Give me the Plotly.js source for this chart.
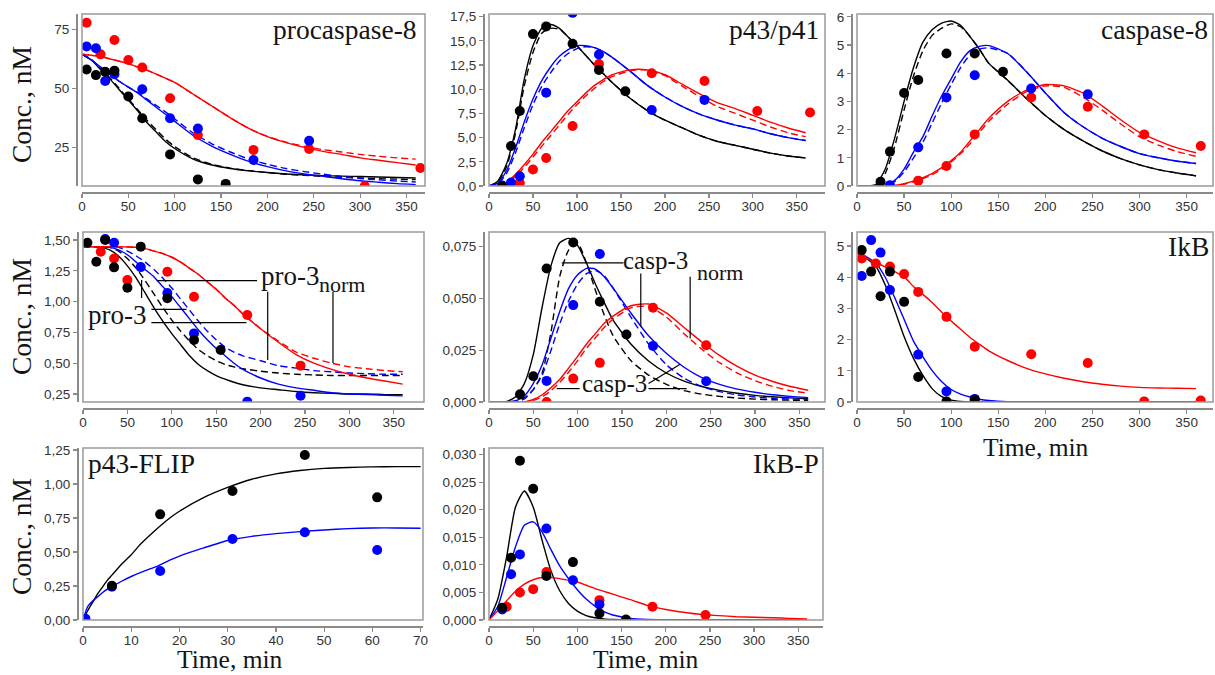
<!DOCTYPE html>
<html><head><meta charset="utf-8">
<script src="https://cdn.plot.ly/plotly-3.0.1.min.js"></script>
<style>html,body{margin:0;padding:0;background:#fff;}#chart{width:1215px;height:675px;}</style>
</head><body><div id="chart"></div>
<script>
// ---------- DATA ----------
// common model time grid (min)
const T26 = [0,10,20,30,40,50,60,70,80,90,100,110,120,130,140,160,180,200,220,240,260,280,300,320,340,360];
// Panel 1: procaspase-8
const p1_t = [0,10,20,30,40,50,60,70,80,90,100,120,140,160,180,200,220,240,260,280,300,320,340,360];
const p1_blackSolid = [64.5,62,58,54,49.5,45,40.5,35.5,31.5,27.5,24.5,20,17.5,16,15,14.3,13.7,13.3,13,12.8,12.6,12.4,12.2,12];
const p1_blackDash  = [64.5,62.3,58.5,54.5,50,45.5,41,36.5,32.5,28.5,25.3,20.5,17.8,16.2,15.1,14.3,13.6,13.1,12.7,12.3,12,11.7,11.5,11.3];
const p1_blueSolid  = [64.5,62,59,56,53,50.5,48,45,42,39,36,30,25.5,22,19,16.8,15,13.7,12.7,11.7,10.8,10.2,9.6,9.2];
const p1_blueDash   = [64.5,62,59,56,53,50.5,48.3,45.5,42.8,40,37,31,26.5,23,20,17.8,16,14.7,13.6,12.6,11.8,11.2,10.7,10.3];
const p1_redSolid   = [64.5,64,63.5,62.5,61.5,60.5,59,57.7,56,54.3,52.5,47.5,42.5,37.5,33,29.5,27,25,23.3,22,20.5,19.5,18.5,17.5];
const p1_redDash    = [64.5,64,63.5,62.5,61.5,60.5,59,57.7,56,54.3,52.5,47.5,42.5,37.5,33,29.6,27.2,25.4,24,23,22,21.2,20.5,20];
const p1_ptRed_t = [5,20,35,50,65,95,125,185,245,305,365];
const p1_ptRed   = [77.8,64.4,70.5,62,58.8,45.8,30.2,23.9,24.3,8.6,16.2];
const p1_ptBlue_t = [5,15,25,35,65,95,125,185,245];
const p1_ptBlue   = [67.7,67,53.1,56,49.6,37.3,33,19.6,27.8];
const p1_ptBlack_t = [5,15,25,35,50,65,95,125,155];
const p1_ptBlack   = [58,55.6,57,57.5,46.5,37.3,22,11.4,9.5];
// Panel 2: p43/p41
const p2_blackSolid = [0,0.5,2.3,5.8,11.0,14.5,16.3,16.7,16.3,15.4,14.5,13.5,12.5,11.6,10.7,9.1,7.8,6.8,6.0,5.2,4.6,4.2,3.8,3.4,3.1,2.9];
const p2_blackDash  = [0,0.4,2.0,5.4,10.3,13.8,15.8,16.3,16.2,15.4,14.5,13.5,12.5,11.6,10.7,9.1,7.8,6.8,6.0,5.2,4.6,4.2,3.8,3.4,3.1,2.9];
const p2_blueSolid  = [0,0.3,1.6,3.9,6.6,9.0,10.9,12.3,13.4,14.1,14.5,14.5,14.3,13.9,13.3,11.9,10.4,9.2,8.2,7.4,6.8,6.3,5.9,5.4,5.0,4.7];
const p2_blueDash   = [0,0.2,1.3,3.4,6.0,8.4,10.3,11.7,12.9,13.7,14.2,14.4,14.3,13.9,13.3,11.9,10.4,9.2,8.2,7.4,6.8,6.3,5.9,5.4,5.0,4.7];
const p2_redSolid   = [0,0.05,0.4,1.2,2.2,3.3,4.5,5.6,6.7,7.8,8.7,9.6,10.4,11.0,11.5,12.0,12.0,11.5,10.5,9.5,8.6,8.0,7.3,6.6,6.0,5.5];
const p2_redDash    = [0,0.03,0.3,1.0,1.9,3.0,4.1,5.2,6.3,7.4,8.4,9.3,10.1,10.8,11.3,11.9,12.0,11.4,10.3,9.2,8.2,7.5,6.8,6.1,5.5,5.1];
const p2_ptBlack_t = [15,25,35,50,65,95,125,155];
const p2_ptBlack   = [0.0,4.13,7.75,15.7,16.5,14.7,12.0,9.8];
const p2_ptBlue_t = [15,25,35,65,95,125,185,245];
const p2_ptBlue   = [0.05,0.35,1.0,9.65,17.9,13.6,7.85,8.9];
const p2_ptRed_t = [35,50,65,95,125,185,245,305,365];
const p2_ptRed   = [0.3,1.7,2.9,6.2,12.6,11.65,10.85,7.75,7.6];
// Panel 3: caspase-8
const p3_blackSolid = [0,0,0.05,0.6,1.7,3.0,4.2,5.1,5.55,5.78,5.85,5.7,5.3,4.85,4.35,3.75,3.1,2.5,2.0,1.6,1.25,0.97,0.75,0.58,0.46,0.36];
const p3_blackDash  = [0,0,0.04,0.45,1.4,2.7,3.9,4.8,5.35,5.6,5.75,5.65,5.3,4.85,4.35,3.75,3.1,2.5,2.0,1.6,1.25,0.97,0.75,0.58,0.46,0.36];
const p3_blueSolid  = [0,0,0,0.02,0.2,0.6,1.2,1.75,2.5,3.2,3.8,4.4,4.8,4.95,4.98,4.7,4.05,3.3,2.6,2.1,1.7,1.4,1.15,1.0,0.88,0.8];
const p3_blueDash   = [0,0,0,0.01,0.15,0.5,1.0,1.55,2.25,2.95,3.6,4.2,4.65,4.85,4.9,4.7,4.05,3.3,2.6,2.1,1.7,1.4,1.15,1.0,0.88,0.8];
const p3_redSolid   = [0,0,0,0,0.02,0.08,0.18,0.3,0.45,0.65,0.9,1.2,1.6,2.0,2.4,3.0,3.4,3.6,3.55,3.3,2.85,2.35,1.9,1.6,1.35,1.18];
const p3_redDash    = [0,0,0,0,0.01,0.06,0.15,0.26,0.4,0.6,0.85,1.15,1.5,1.9,2.3,2.9,3.35,3.55,3.5,3.15,2.7,2.2,1.75,1.45,1.22,1.05];
const p3_ptBlack_t = [25,35,50,65,95,125,155];
const p3_ptBlack   = [0.15,1.22,3.3,3.76,4.7,4.7,4.05];
const p3_ptBlue_t = [35,65,95,125,185,245];
const p3_ptBlue   = [0.03,1.37,3.14,3.93,3.46,3.25];
const p3_ptRed_t = [65,95,125,185,245,305,365];
const p3_ptRed   = [0.19,0.71,1.83,3.14,2.81,1.83,1.42];
// Panel 4: procaspase-3
const p4_t = [0,10,20,30,40,50,60,70,80,90,100,110,120,130,140,150,160,170,180,200,220,240,260,280,300,320,340,360];
const p4_redSolid   = [1.446,1.446,1.446,1.446,1.445,1.443,1.44,1.43,1.41,1.39,1.36,1.32,1.27,1.22,1.16,1.10,1.03,0.97,0.9,0.78,0.67,0.57,0.5,0.45,0.41,0.38,0.355,0.33];
const p4_redDash    = [1.446,1.446,1.446,1.446,1.445,1.443,1.44,1.43,1.41,1.39,1.36,1.32,1.27,1.22,1.16,1.10,1.03,0.97,0.9,0.78,0.68,0.59,0.54,0.5,0.47,0.455,0.44,0.43];
const p4_blackSolid = [1.446,1.446,1.44,1.42,1.37,1.29,1.19,1.07,0.95,0.84,0.74,0.65,0.56,0.49,0.44,0.40,0.37,0.345,0.325,0.30,0.285,0.27,0.26,0.255,0.25,0.25,0.245,0.245];
const p4_blackDash  = [1.446,1.446,1.445,1.44,1.41,1.35,1.27,1.17,1.06,0.95,0.85,0.76,0.68,0.61,0.56,0.52,0.49,0.47,0.455,0.435,0.42,0.41,0.405,0.40,0.40,0.40,0.40,0.40];
const p4_blueSolid  = [1.446,1.446,1.445,1.44,1.42,1.38,1.32,1.26,1.2,1.12,1.04,0.95,0.86,0.77,0.69,0.62,0.56,0.5,0.45,0.38,0.33,0.30,0.28,0.26,0.25,0.245,0.24,0.235];
const p4_blueDash   = [1.446,1.446,1.446,1.445,1.44,1.41,1.37,1.32,1.26,1.19,1.11,1.02,0.93,0.84,0.76,0.69,0.63,0.59,0.56,0.52,0.48,0.46,0.44,0.43,0.42,0.415,0.41,0.41];
const p4_ptBlack_t = [5,15,25,35,50,65,95,125,155];
const p4_ptBlack   = [1.478,1.324,1.5,1.278,1.113,1.446,1.027,0.688,0.607];
const p4_ptRed_t = [20,35,50,95,125,185,245];
const p4_ptRed   = [1.405,1.35,1.175,1.243,1.04,0.891,0.48];
const p4_ptBlue_t = [25,35,65,95,125,185,245];
const p4_ptBlue   = [1.508,1.478,1.28,1.07,0.742,0.188,0.236];
// Panel 5: caspase-3
const p5_blackSolid = [0,0,0.0003,0.0025,0.009,0.023,0.046,0.066,0.077,0.079,0.0755,0.067,0.057,0.048,0.0395,0.028,0.0198,0.014,0.0101,0.0075,0.0056,0.0042,0.0032,0.0025,0.002,0.0016];
const p5_blackDash  = [0,0,0,0.0005,0.002,0.006,0.014,0.034,0.061,0.0735,0.0767,0.067,0.054,0.042,0.032,0.02,0.013,0.0085,0.0055,0.0038,0.0027,0.0019,0.0014,0.0011,0.0009,0.0008];
const p5_blueSolid  = [0,0,0,0.0005,0.003,0.009,0.018,0.031,0.044,0.055,0.0615,0.0645,0.0642,0.0605,0.055,0.043,0.032,0.0235,0.0168,0.0118,0.0085,0.0062,0.0047,0.0035,0.0027,0.0021];
const p5_blueDash   = [0,0,0,0.0002,0.0015,0.006,0.013,0.025,0.038,0.049,0.057,0.062,0.0635,0.061,0.055,0.041,0.028,0.018,0.0115,0.0075,0.005,0.0034,0.0024,0.0018,0.0014,0.0012];
const p5_redSolid   = [0,0,0,0,0,0.0012,0.0035,0.007,0.011,0.0165,0.022,0.028,0.033,0.038,0.0415,0.0465,0.0473,0.043,0.036,0.029,0.0225,0.0172,0.013,0.0099,0.0075,0.0057];
const p5_redDash    = [0,0,0,0,0,0.0008,0.0025,0.0055,0.0095,0.0145,0.02,0.026,0.031,0.036,0.04,0.0455,0.0462,0.041,0.033,0.0255,0.019,0.014,0.0103,0.0075,0.0055,0.0042];
const p5_ptBlack_t = [35,50,65,95,125,155];
const p5_ptBlack   = [0.0037,0.0124,0.0645,0.077,0.0484,0.0326];
const p5_ptBlue_t = [65,95,125,185,245];
const p5_ptBlue   = [0.0102,0.0468,0.0715,0.0271,0.01];
const p5_ptRed_t = [65,95,125,185,245];
const p5_ptRed   = [0.0,0.0113,0.0189,0.0455,0.0274];
// Panel 6: IkB
const p6_black = [4.82,4.6,4.35,3.75,2.95,2.1,1.4,0.85,0.42,0.17,0.06,0.02,0.005,0,0,0,0,0,0,0,0,0,0,0,0,0];
const p6_blue  = [4.8,4.65,4.45,4.0,3.35,2.65,1.95,1.45,1.0,0.65,0.4,0.25,0.16,0.09,0.05,0.01,0,0,0,0,0,0,0,0,0,0];
const p6_red   = [4.75,4.6,4.47,4.33,4.18,4.02,3.7,3.45,3.18,2.88,2.6,2.33,2.07,1.85,1.64,1.33,1.08,0.9,0.76,0.65,0.57,0.51,0.47,0.45,0.44,0.43];
const p6_ptBlack_t = [5,15,25,35,50,65,95,125];
const p6_ptBlack   = [4.87,4.18,3.39,4.18,3.21,0.8,0.02,0.07];
const p6_ptBlue_t = [5,15,25,35,65,95,125];
const p6_ptBlue   = [4.04,5.19,4.79,3.59,1.52,0.34,0.1];
const p6_ptRed_t = [5,20,35,50,65,95,125,185,245,305,365];
const p6_ptRed   = [4.6,4.44,4.34,4.1,3.53,2.73,1.77,1.53,1.25,0.02,0.05];
// Panel 7: p43-FLIP
const p7_t = [0,1,2,3,4,5,6,8,10,12,15,18,20,25,30,35,40,45,50,55,60,65,70];
const p7_black = [0,0.07,0.13,0.19,0.24,0.29,0.33,0.41,0.48,0.56,0.66,0.75,0.8,0.9,0.975,1.035,1.075,1.1,1.115,1.122,1.126,1.128,1.128];
const p7_blue  = [0,0.1,0.14,0.17,0.2,0.225,0.245,0.285,0.32,0.35,0.39,0.44,0.47,0.53,0.585,0.615,0.635,0.65,0.662,0.672,0.677,0.677,0.675];
const p7_ptBlack_t = [6,16,31,46,61];
const p7_ptBlack   = [0.252,0.777,0.949,1.213,0.902];
const p7_ptBlue_t = [0.5,6,16,31,46,61];
const p7_ptBlue   = [0.01,0.245,0.36,0.596,0.645,0.515];
// Panel 8: IkB-P
const p8_black = [0,0.0038,0.0115,0.0205,0.0234,0.0205,0.0145,0.009,0.0053,0.003,0.0016,0.0008,0.0004,0.0002,0.0001,0,0,0,0,0,0,0,0,0,0,0];
const p8_blue  = [0,0.0025,0.0078,0.0133,0.0172,0.0178,0.016,0.0128,0.0098,0.0075,0.0055,0.0038,0.0025,0.0015,0.0009,0.0003,0.0001,0,0,0,0,0,0,0,0,0];
const p8_red   = [0,0.0017,0.0035,0.0052,0.0065,0.0073,0.0077,0.0077,0.0075,0.0072,0.0069,0.0063,0.0057,0.0052,0.0047,0.0037,0.0026,0.0019,0.0014,0.001,0.0008,0.0006,0.0005,0.0004,0.0003,0.0002];
const p8_ptBlack_t = [15,25,35,50,65,95,125,155];
const p8_ptBlack   = [0.0022,0.0113,0.0289,0.0238,0.008,0.0105,0.0012,0.0001];
const p8_ptBlue_t = [15,25,35,65,95,125];
const p8_ptBlue   = [0.0019,0.0083,0.0119,0.0166,0.0072,0.0028];
const p8_ptRed_t = [20,35,50,65,125,185,245];
const p8_ptRed   = [0.0024,0.005,0.0056,0.0087,0.0036,0.0024,0.0009];

// ---------- STYLE / LAYOUT ----------
const W = 1215, H = 675;
const fx = p => p / W, fy = p => 1 - p / H;
const BLACK = '#000000', BLUE = '#0000ff', RED = '#ff0000';
const AX = '#8a8a8a';
const SERIF = 'Liberation Serif, Times New Roman, serif';
const TFS = 27.5;
const TICKFONT = {family: 'Liberation Sans, Arial, sans-serif', size: 13.5, color: '#333333'};
const TXT = '#141414';
const xs50 = [0,50,100,150,200,250,300,350];

const panels = [
  {n:1, box:[82,425,14,186],   xr:[0,370],  yr:[8.6,81.5],   xt:xs50, yt:[25,50,75], yf:''},
  {n:2, box:[489,825,14,186],  xr:[0,382],  yr:[0,17.78],    xt:xs50, yt:[0,2.5,5,7.5,10,12.5,15,17.5], yf:'.1f'},
  {n:3, box:[857,1213,14,186], xr:[0,378],  yr:[0,6.1],      xt:xs50, yt:[0,1,2,3,4,5,6], yf:''},
  {n:4, box:[83,424,232,402],  xr:[0,384],  yr:[0.185,1.565],xt:xs50, yt:[0.25,0.5,0.75,1,1.25,1.5], yf:'.2f'},
  {n:5, box:[489,825,232,402], xr:[0,379],  yr:[0,0.0821],   xt:xs50, yt:[0,0.025,0.05,0.075], yf:'.3f'},
  {n:6, box:[857,1213,232,402],xr:[0,378],  yr:[0,5.45],     xt:xs50, yt:[0,1,2,3,4,5], yf:''},
  {n:7, box:[83,423,448,620],  xr:[0,70.5], yr:[0,1.265],    xt:[0,10,20,30,40,50,60,70], yt:[0,0.25,0.5,0.75,1,1.25], yf:'.2f'},
  {n:8, box:[489,823,448,620], xr:[0,378],  yr:[0,0.0312],   xt:xs50, yt:[0,0.005,0.01,0.015,0.02,0.025,0.03], yf:'.3f'}
];
const ax = n => (n === 1 ? '' : String(n));

function L(n, t, y, c, dashed) {
  return {type:'scatter', mode:'lines', x:t, y:y, xaxis:'x'+ax(n), yaxis:'y'+ax(n),
    line:{color:c, width:1.4, dash: dashed ? '7px,4px' : 'solid', shape:'spline', smoothing:0.6},
    hoverinfo:'skip', showlegend:false};
}
function P(n, t, y, c) {
  return {type:'scatter', mode:'markers', x:t, y:y, xaxis:'x'+ax(n), yaxis:'y'+ax(n),
    marker:{color:c, size:10}, hoverinfo:'skip', showlegend:false};
}

const traces = [
  L(1,p1_t,p1_blackSolid,BLACK,false), L(1,p1_t,p1_blackDash,BLACK,true),
  L(1,p1_t,p1_blueSolid,BLUE,false),   L(1,p1_t,p1_blueDash,BLUE,true),
  L(1,p1_t,p1_redSolid,RED,false),     L(1,p1_t,p1_redDash,RED,true),
  L(2,T26,p2_blackSolid,BLACK,false),  L(2,T26,p2_blackDash,BLACK,true),
  L(2,T26,p2_blueSolid,BLUE,false),    L(2,T26,p2_blueDash,BLUE,true),
  L(2,T26,p2_redSolid,RED,false),      L(2,T26,p2_redDash,RED,true),
  L(3,T26,p3_blackSolid,BLACK,false),  L(3,T26,p3_blackDash,BLACK,true),
  L(3,T26,p3_blueSolid,BLUE,false),    L(3,T26,p3_blueDash,BLUE,true),
  L(3,T26,p3_redSolid,RED,false),      L(3,T26,p3_redDash,RED,true),
  L(4,p4_t,p4_blackSolid,BLACK,false), L(4,p4_t,p4_blackDash,BLACK,true),
  L(4,p4_t,p4_blueSolid,BLUE,false),   L(4,p4_t,p4_blueDash,BLUE,true),
  L(4,p4_t,p4_redSolid,RED,false),     L(4,p4_t,p4_redDash,RED,true),
  L(5,T26,p5_blackSolid,BLACK,false),  L(5,T26,p5_blackDash,BLACK,true),
  L(5,T26,p5_blueSolid,BLUE,false),    L(5,T26,p5_blueDash,BLUE,true),
  L(5,T26,p5_redSolid,RED,false),      L(5,T26,p5_redDash,RED,true),
  L(6,T26,p6_black,BLACK,false), L(6,T26,p6_blue,BLUE,false), L(6,T26,p6_red,RED,false),
  L(7,p7_t,p7_black,BLACK,false), L(7,p7_t,p7_blue,BLUE,false),
  L(8,T26,p8_black,BLACK,false), L(8,T26,p8_blue,BLUE,false), L(8,T26,p8_red,RED,false),
  P(1,p1_ptRed_t,p1_ptRed,RED), P(1,p1_ptBlue_t,p1_ptBlue,BLUE), P(1,p1_ptBlack_t,p1_ptBlack,BLACK),
  P(2,p2_ptRed_t,p2_ptRed,RED), P(2,p2_ptBlue_t,p2_ptBlue,BLUE), P(2,p2_ptBlack_t,p2_ptBlack,BLACK),
  P(3,p3_ptRed_t,p3_ptRed,RED), P(3,p3_ptBlue_t,p3_ptBlue,BLUE), P(3,p3_ptBlack_t,p3_ptBlack,BLACK),
  P(4,p4_ptRed_t,p4_ptRed,RED), P(4,p4_ptBlue_t,p4_ptBlue,BLUE), P(4,p4_ptBlack_t,p4_ptBlack,BLACK),
  P(5,p5_ptRed_t,p5_ptRed,RED), P(5,p5_ptBlue_t,p5_ptBlue,BLUE), P(5,p5_ptBlack_t,p5_ptBlack,BLACK),
  P(6,p6_ptRed_t,p6_ptRed,RED), P(6,p6_ptBlue_t,p6_ptBlue,BLUE), P(6,p6_ptBlack_t,p6_ptBlack,BLACK),
  P(7,p7_ptBlue_t,p7_ptBlue,BLUE), P(7,p7_ptBlack_t,p7_ptBlack,BLACK),
  P(8,p8_ptRed_t,p8_ptRed,RED), P(8,p8_ptBlue_t,p8_ptBlue,BLUE), P(8,p8_ptBlack_t,p8_ptBlack,BLACK)
];

const layout = {
  width: W, height: H, margin:{l:0,r:0,t:0,b:0},
  paper_bgcolor:'#ffffff', plot_bgcolor:'rgba(0,0,0,0)',
  separators: ', ', showlegend:false, shapes:[], annotations:[]
};

panels.forEach(p => {
  const [x0,x1,yt,yb] = p.box;
  const common = {ticks:'outside', ticklen:4, tickwidth:1.2, tickcolor:AX, showline:true, linecolor:AX,
    linewidth:1.5, showgrid:false, zeroline:false, tickfont:TICKFONT, fixedrange:true, anchor:'free'};
  layout['xaxis'+ax(p.n)] = Object.assign({}, common, {domain:[fx(x0),fx(x1)], range:p.xr,
    position: fy(yb+6), tickvals:p.xt, side:'bottom', ticklabelstandoff:-3});
  layout['yaxis'+ax(p.n)] = Object.assign({}, common, {domain:[fy(yb),fy(yt)], range:p.yr,
    position: fx(x0-6), tickvals:p.yt, tickformat:p.yf, side:'left'});
  layout.shapes.push({type:'rect', xref:'paper', yref:'paper', x0:fx(x0), x1:fx(x1), y0:fy(yb), y1:fy(yt),
    line:{color:'#9a9a9a', width:1.5}, fillcolor:'rgba(0,0,0,0)', layer:'above'});
});

function A(x, y, text, opts) {
  return Object.assign({xref:'paper', yref:'paper', x:fx(x), y:fy(y), text:text, showarrow:false,
    xanchor:'center', yanchor:'middle', font:{family:SERIF, size:TFS, color:TXT}}, opts || {});
}
const TIMEFONT = {family:SERIF, size:25.5, color:TXT};
// panel titles
layout.annotations.push(
  A(419, 29, 'procaspase-8', {xanchor:'right'}),
  A(821, 30, 'p43/p41', {xanchor:'right'}),
  A(1210, 30, 'caspase-8', {xanchor:'right'}),
  A(1211, 246, 'IkB', {xanchor:'right'}),
  A(86, 464, 'p43-FLIP', {xanchor:'left'}),
  A(821, 464, 'IkB-P', {xanchor:'right'}),
  A(21, 105, 'Conc., nM', {textangle:-90}),
  A(21, 317, 'Conc., nM', {textangle:-90}),
  A(21, 537, 'Conc., nM', {textangle:-90}),
  A(1036, 447, 'Time, min', {font:TIMEFONT}),
  A(230, 675, 'Time, min', {yanchor:'bottom', borderpad:0, font:TIMEFONT}),
  A(646, 675, 'Time, min', {yanchor:'bottom', borderpad:0, font:TIMEFONT})
);
// in-panel labels (data coordinates)
function D(n, x, y, text, size) {
  return {xref:'x'+ax(n), yref:'y'+ax(n), x:x, y:y, text:text, showarrow:false,
    xanchor:'center', yanchor:'middle', font:{family:SERIF, size:size, color:TXT}};
}
layout.annotations.push(
  D(4, 38.6, 0.892, 'pro-3', 27),
  D(4, 233, 1.208, 'pro-3', 27),
  D(4, 292.2, 1.139, 'norm', 22),
  D(5, 187.4, 0.0681, 'casp-3', 25),
  D(5, 260.7, 0.0625, 'norm', 22),
  D(5, 141.1, 0.00905, 'casp-3', 25)
);
function S(n, x0, y0, x1, y1) {
  return {type:'line', xref:'x'+ax(n), yref:'y'+ax(n), x0:x0, y0:y0, x1:x1, y1:y1,
    line:{color:'#000000', width:1.2}, layer:'above'};
}
layout.shapes.push(
  S(4, 83, 1.170, 196, 1.170),
  S(4, 208, 1.080, 208, 0.526),
  S(4, 281.5, 1.080, 281.5, 0.502),
  S(4, 66, 1.175, 66, 1.029),
  S(4, 77, 0.937, 116.6, 0.937),
  S(4, 77, 0.829, 184, 0.829),
  S(5, 82, 0.0672, 151.6, 0.0672),
  S(5, 171.2, 0.0621, 171.2, 0.0363),
  S(5, 226.9, 0.0605, 226.9, 0.0307),
  S(5, 76.4, 0.00648, 102.3, 0.00648),
  S(5, 180, 0.00648, 223, 0.00648),
  S(5, 180, 0.0089, 215.6, 0.0182)
);

Plotly.newPlot('chart', traces, layout, {staticPlot:true, displayModeBar:false});
</script>
</body></html>
